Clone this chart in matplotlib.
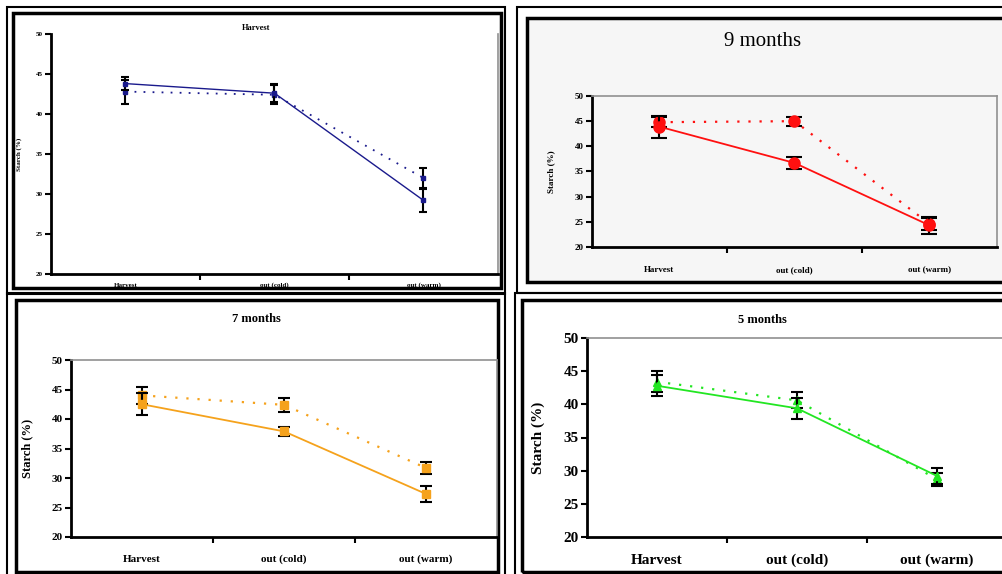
import matplotlib.pyplot as plt
from matplotlib.patches import Rectangle

W, H = 1003, 574

categories = ["Harvest", "out (cold)", "out (warm)"]
yticks = [20, 25, 30, 35, 40, 45, 50]

# harvest
harvest_a = [43.8, 42.6, 29.2]
harvest_a_err = [0.8, 1.1, 1.4]
harvest_b = [42.8, 42.4, 32.0]
harvest_b_err = [1.5, 1.2, 1.2]

# 9 months
m9_a = [43.9, 36.7, 24.3]
m9_a_err = [2.2, 1.2, 1.7]
m9_b = [44.8, 45.0, 24.6]
m9_b_err = [1.0, 0.9, 1.2]

# 7 months
m7_a = [42.5, 37.9, 27.3]
m7_a_err = [1.9, 0.8, 1.3]
m7_b = [44.0, 42.4, 31.7]
m7_b_err = [1.5, 1.2, 1.0]

# 5 months
m5_a = [42.8, 39.4, 29.2]
m5_a_err = [1.6, 1.6, 1.2]
m5_b = [43.4, 40.6, 28.7]
m5_b_err = [1.6, 1.2, 1.0]

SERIF = ["Liberation Serif", "DejaVu Serif"]


def px_axes(fig, left, top, right, bottom):
    return fig.add_axes([left / W, 1 - bottom / H, (right - left) / W, (bottom - top) / H])


def frame(fig, left, top, right, bottom, lw=2.0, face="none"):
    fig.patches.append(Rectangle((left / W, 1 - bottom / H), (right - left) / W, (bottom - top) / H,
                                 transform=fig.transFigure, fill=face != "none", facecolor=face,
                                 edgecolor="black", lw=lw, zorder=-1))


def panel(fig, box, title, title_xy, title_size, ya, ea, yb, eb, color, marker, ms,
          tick_size, label_size, ylabel_x, face="white", xlabel_pad=8, lw=1.3, cap=4):
    ax = px_axes(fig, *box)
    ax.set_facecolor(face)
    x = range(len(categories))
    ax.errorbar(x, yb, yerr=eb, color=color, ls=(0, (1, 4)), lw=lw + 0.3, marker=marker, ms=ms,
                mec=color, ecolor="black", elinewidth=1.5, capsize=cap, capthick=1.5, zorder=3)
    ax.errorbar(x, ya, yerr=ea, color=color, ls="-", lw=lw, marker=marker, ms=ms,
                mec=color, ecolor="black", elinewidth=1.5, capsize=cap, capthick=1.5, zorder=4)
    ax.set_xlim(-0.5, 2.5)
    ax.set_ylim(20, 50)
    ax.set_yticks(yticks)
    ax.set_yticklabels([str(v) for v in yticks], family=SERIF, fontsize=tick_size, fontweight="bold")
    ax.set_xticks([0.5, 1.5])
    ax.set_xticklabels([])
    for i, c in enumerate(categories):
        ax.annotate(c, (i, 0), xycoords=("data", "axes fraction"), xytext=(0, -xlabel_pad - tick_size),
                    textcoords="offset points", ha="center", va="center",
                    family=SERIF, fontsize=tick_size, fontweight="bold")
    ax.tick_params(axis="both", direction="out", length=4, width=1.5, pad=2)
    ax.spines["left"].set_linewidth(2)
    ax.spines["bottom"].set_linewidth(2)
    ax.spines["top"].set_color("#909090")
    ax.spines["right"].set_color("#909090")
    ax.spines["top"].set_linewidth(1.2)
    ax.spines["right"].set_linewidth(1.2)
    ax.set_ylabel("Starch (%)", family=SERIF, fontsize=label_size, fontweight="bold")
    ax.yaxis.set_label_coords((ylabel_x - box[0]) / (box[2] - box[0]), 0.5)
    fig.text(title_xy[0] / W, 1 - title_xy[1] / H, title, family=SERIF, fontsize=title_size,
             fontweight="bold" if title_size < 12 else "normal", ha="center", va="center")
    return ax


fig = plt.figure(figsize=(W / 100, H / 100), dpi=100)
fig.patch.set_facecolor("white")

# panel frames: outer border plus inner border
frame(fig, 7, 7, 505, 294, lw=1.5)
frame(fig, 13, 13, 501, 288, lw=2.5)
frame(fig, 517, 7, 1010, 293, lw=1.5)
frame(fig, 527, 18, 1010, 282, lw=2.5, face="#f6f6f6")
frame(fig, 7, 293, 505, 580, lw=1.5)
frame(fig, 16, 300, 498, 572, lw=2.5)
frame(fig, 515, 293, 1010, 580, lw=1.5)
frame(fig, 522, 300, 1010, 572, lw=2.5)

ax1 = panel(fig, (51, 34, 498, 274), "Harvest", (256, 28), 6, harvest_a, harvest_a_err,
            harvest_b, harvest_b_err, "#1a1a8c", "s", 3, 5, 5, 22, xlabel_pad=3, lw=1.0, cap=3)
ax1.spines["top"].set_visible(False)

panel(fig, (592, 96, 997, 247), "9 months", (763, 42), 15, m9_a, m9_a_err, m9_b, m9_b_err,
      "#ff1010", "o", 8, 6.5, 6.5, 555, face="#f6f6f6", xlabel_pad=10, cap=6)

panel(fig, (71, 360, 497, 537), "7 months", (256, 319), 9, m7_a, m7_a_err, m7_b, m7_b_err,
      "#f5a21c", "s", 6, 8, 9, 33, xlabel_pad=8, cap=4)

panel(fig, (587, 338, 1007, 537), "5 months", (762, 320), 9, m5_a, m5_a_err, m5_b, m5_b_err,
      "#22e622", "^", 5.5, 11, 11, 545, xlabel_pad=6, cap=4)

fig.savefig("out.png", dpi=100)
